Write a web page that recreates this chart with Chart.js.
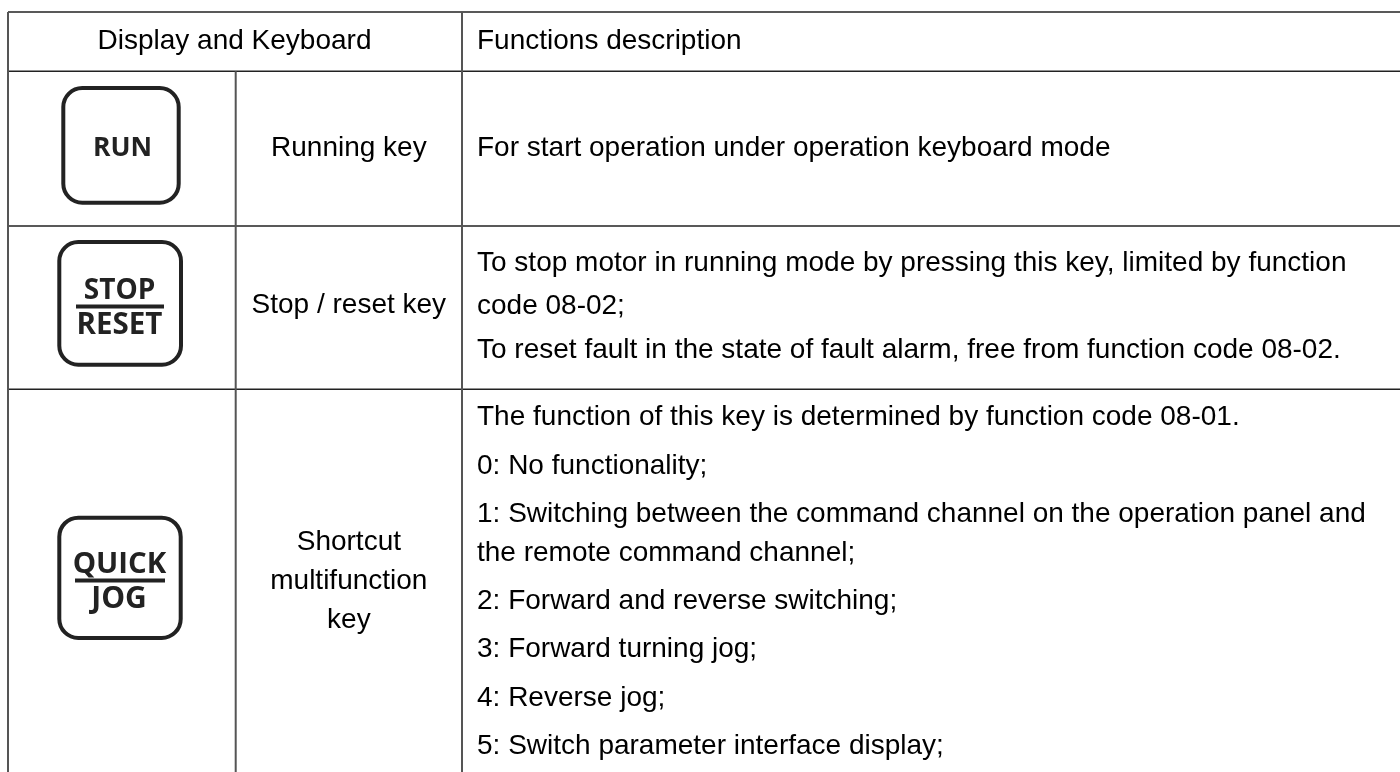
<!DOCTYPE html>
<html>
<head>
<meta charset="utf-8">
<title>Display and Keyboard</title>
<style>
html, body { margin: 0; padding: 0; background: #fff; }
canvas { display: block; }
</style>
<script src="https://cdn.jsdelivr.net/npm/chart.js@4"></script>
</head>
<body>
<canvas id="table-chart" width="1400" height="772"></canvas>
<script>
// Table content
const headerLabels = ['Display and Keyboard', 'Functions description'];
const keyNames = [['Running key'], ['Stop / reset key'], ['Shortcut', 'multifunction', 'key']];
const keyCaps = [['RUN'], ['STOP', 'RESET'], ['QUICK', 'JOG']];
const descriptions = [
    ['For start operation under operation keyboard mode'],
    ['To stop motor in running mode by pressing this key, limited by function',
     'code 08-02;',
     'To reset fault in the state of fault alarm, free from function code 08-02.'],
    ['The function of this key is determined by function code 08-01.',
     '0: No functionality;',
     '1: Switching between the command channel on the operation panel and',
     'the remote command channel;',
     '2: Forward and reverse switching;',
     '3: Forward turning jog;',
     '4: Reverse jog;',
     '5: Switch parameter interface display;']
];

// Layout, in page pixels
const W = 1400, H = 772;
const LEFT = 8, COL1 = 235.7, COL2 = 462;
const ROW_TOP = 12, ROW_HEAD = 71.3, ROW1 = 226, ROW2 = 389.3;
const FONT = '"Liberation Sans", Arial, sans-serif';
const TEXT_PX = 28;
const TEXT_X = 477;
const HEADER_BASE = 49;
const NAME_BASE = [[156], [313], [550, 589, 628]];
const DESC_BASE = [[156], [271, 314, 358], [425, 474, 522, 561, 609, 657, 706, 754]];

const hRules = [ROW_TOP, ROW_HEAD, ROW1, ROW2];
const vRules = [[LEFT, ROW_TOP], [COL1, ROW_HEAD], [COL2, ROW_TOP]];

const capBoxes = [
    { x0: 63.3, y0: 88, x1: 178.7, y1: 202.7, lines: [[122.5, 156, 26.5]] },
    { x0: 59.3, y0: 242, x1: 181, y1: 364.7, lines: [[119.5, 299, 28], [119.5, 334, 29.5]], bar: [76, 164, 306.5] },
    { x0: 59.3, y0: 517.7, x1: 180.7, y1: 638, lines: [[119.5, 572.5, 29.4], [119, 608, 30]], bar: [75, 165, 580.5] }
];

// Draws the text and the key caps through the chart scales
const tablePlugin = {
    id: 'tablePlugin',
    afterDatasetsDraw(chart) {
        const { ctx, scales: { x, y } } = chart;
        const text = (str, px, py, align) => {
            ctx.textAlign = align;
            ctx.fillText(str, x.getPixelForValue(px), y.getPixelForValue(py));
        };
        ctx.save();
        ctx.fillStyle = '#000';
        ctx.textBaseline = 'alphabetic';
        ctx.font = `${TEXT_PX}px ${FONT}`;

        text(headerLabels[0], 234.5, HEADER_BASE, 'center');
        text(headerLabels[1], TEXT_X, HEADER_BASE, 'left');

        keyNames.forEach((lines, i) => {
            lines.forEach((line, j) => text(line, (COL1 + COL2) / 2, NAME_BASE[i][j], 'center'));
        });
        descriptions.forEach((lines, i) => {
            lines.forEach((line, j) => text(line, TEXT_X, DESC_BASE[i][j], 'left'));
        });

        // Key caps
        ctx.strokeStyle = '#222';
        ctx.lineWidth = 4;
        capBoxes.forEach((box, i) => {
            const bx = x.getPixelForValue(box.x0), by = y.getPixelForValue(box.y0);
            ctx.beginPath();
            ctx.roundRect(bx, by, x.getPixelForValue(box.x1) - bx, y.getPixelForValue(box.y1) - by, 19);
            ctx.stroke();
            ctx.fillStyle = '#222';
            keyCaps[i].forEach((label, j) => {
                const [cx, cy, size] = box.lines[j];
                ctx.font = `bold ${size}px "Open Sans", ${FONT}`;
                text(label, cx, cy, 'center');
            });
            if (box.bar) {
                ctx.fillRect(x.getPixelForValue(box.bar[0]), y.getPixelForValue(box.bar[2]) - 2,
                    box.bar[1] - box.bar[0], 4);
            }
        });
        ctx.restore();
    }
};

const lineSet = (pts, color, width) => ({
    data: pts,
    showLine: true,
    borderColor: color,
    borderWidth: width,
    pointRadius: 0,
    clip: false
});

new Chart(document.getElementById('table-chart').getContext('2d'), {
    type: 'scatter',
    data: {
        datasets: [
            ...vRules.map(r => lineSet([{ x: r[0], y: r[1] }, { x: r[0], y: H }], '#555', 2)),
            ...hRules.map(r => lineSet([{ x: LEFT, y: r }, { x: W, y: r }], '#222', 1.5))
        ]
    },
    options: {
        responsive: false,
        animation: false,
        layout: { padding: 0 },
        plugins: { legend: { display: false }, tooltip: { enabled: false } },
        scales: {
            x: { type: 'linear', display: false, min: 0, max: W },
            y: { type: 'linear', display: false, min: 0, max: H, reverse: true }
        }
    },
    plugins: [tablePlugin]
});
</script>
</body>
</html>
